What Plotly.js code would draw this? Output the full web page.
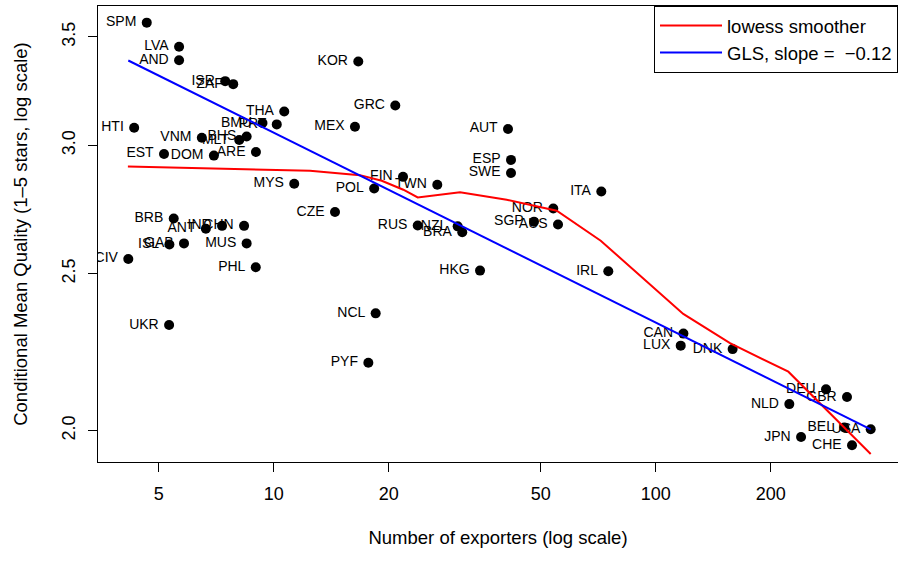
<!DOCTYPE html>
<html><head><meta charset="utf-8">
<script src="https://cdn.plot.ly/plotly-3.0.1.min.js"></script>
<style>html,body{margin:0;padding:0;background:#fff;} #chart{width:898px;height:561px;}</style>
</head><body><div id="chart"></div>
<script>
const countries = ['SPM','LVA','AND','ISR','ZAF','THA','BMU','PRT','VNM','MLT','BHS','EST','DOM','ARE','HTI','MYS','BRB','ANT','IND','CHN','ISL','GAB','MUS','PHL','CIV','UKR','KOR','GRC','MEX','FIN','POL','TWN','CZE','RUS','NZL','BRA','AUT','ESP','SWE','ITA','NOR','SGP','AUS','HKG','IRL','NCL','PYF','CAN','LUX','DNK','DEU','GBR','NLD','BEL','USA','JPN','CHE'];
const exporters = [4.65,5.65,5.65,7.46,7.83,10.65,9.34,10.18,6.48,8.12,8.49,5.16,6.97,8.98,4.31,11.31,5.47,6.64,7.32,8.36,5.33,5.82,8.49,8.97,4.16,5.32,16.64,20.80,16.31,21.79,18.31,26.79,14.46,23.81,30.29,31.14,41.03,41.78,41.78,72.0,53.9,47.99,55.46,34.66,75.1,18.48,17.68,118.1,116.2,158.9,279,316.6,223.6,311.5,365.2,240,326.3];
const quality = [3.572,3.452,3.386,3.287,3.273,3.148,3.097,3.091,3.033,3.023,3.038,2.964,2.957,2.972,3.076,2.841,2.704,2.665,2.676,2.676,2.606,2.610,2.610,2.523,2.553,2.324,3.380,3.175,3.081,2.869,2.822,2.837,2.729,2.677,2.674,2.652,3.071,2.939,2.885,2.810,2.743,2.692,2.681,2.511,2.509,2.363,2.203,2.296,2.257,2.246,2.121,2.098,2.077,2.009,2.004,1.982,1.959];
const lowessX = [4.15,12.44,16.81,19.17,21.83,23.81,30.72,40.71,55.04,71.75,118.0,156.4,222.3,365.2];
const lowessY = [2.911,2.894,2.876,2.853,2.817,2.786,2.807,2.777,2.734,2.620,2.361,2.265,2.175,1.935];
const glsX = [4.16,365.2];
const glsY = [3.385,2.004];
const xTicks = [5,10,20,50,100,200];
const xTickLabels = ['5','10','20','50','100','200'];
const yTicks = [2.0,2.5,3.0,3.5];
const yTickLabels = ['2.0','2.5','3.0','3.5'];

const FONT = 'Liberation Sans, Arial, Helvetica, sans-serif';
const traces = [
  {x: exporters, y: quality, text: countries, type:'scatter', mode:'markers+text',
   textposition:'middle left', marker:{color:'rgba(0,0,0,0)', size:15},
   textfont:{family:FONT, size:14, color:'black'}, showlegend:false, hoverinfo:'skip'},
  {x: exporters, y: quality, text: countries, type:'scatter', mode:'markers',
   marker:{color:'black', size:10}, showlegend:false, hoverinfo:'text'},
  {x: lowessX, y: lowessY, type:'scatter', mode:'lines', line:{color:'red', width:2}, name:'lowess smoother'},
  {x: glsX, y: glsY, type:'scatter', mode:'lines', line:{color:'blue', width:2}, name:'GLS, slope = \u00a0\u22120.12'}
];
const axisCommon = {type:'log', ticks:'outside', ticklen:9, tickwidth:1, tickcolor:'black',
  showline:true, mirror:true, linecolor:'black', linewidth:1, showgrid:false, zeroline:false,
  tickfont:{family:FONT, size:18, color:'black'}, automargin:false};
const layout = {
  width:898, height:561,
  margin:{l:98, r:0, t:6, b:99},
  paper_bgcolor:'white', plot_bgcolor:'white',
  font:{family:FONT, color:'black', size:18},
  showlegend:true,
  xaxis: Object.assign({}, axisCommon, {range:[0.5398, 2.634], tickvals:xTicks, ticktext:xTickLabels,
    ticklabelstandoff:6,
    title:{text:'Number of exporters (log scale)', font:{family:FONT, size:18.5, color:'black'}, standoff:28}}),
  yaxis: Object.assign({}, axisCommon, {range:[0.28171, 0.56319], tickvals:yTicks, ticktext:yTickLabels,
    tickangle:-90, ticklabelstandoff:6,
    title:{text:'Conditional Mean Quality (1\u20135 stars, log scale)', font:{family:FONT, size:18.5, color:'black'}, standoff:26}}),
  legend:{x:1, y:1, xanchor:'right', yanchor:'top', bordercolor:'black', borderwidth:1,
    bgcolor:'white', font:{family:FONT, size:18.5, color:'black'}, tracegroupgap:0,
    itemwidth:62}
};
Plotly.newPlot('chart', traces, layout, {displayModeBar:false, staticPlot:true});
</script>
</body></html>
